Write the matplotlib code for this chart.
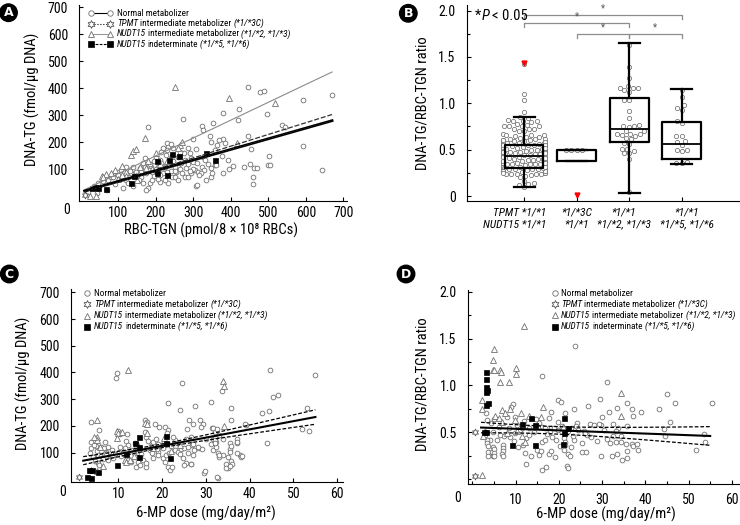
import matplotlib
matplotlib.use("Agg")
import matplotlib.pyplot as plt
import numpy as np
import seaborn as sns
from matplotlib import font_manager
from matplotlib.ticker import MultipleLocator

# pick a narrow face if one is installed (the figure uses a condensed grotesque)
_fonts = font_manager.fontManager.ttflist
_names = {f.name for f in _fonts}
FONT, STRETCH = 'DejaVu Sans', 'normal'
for n in ['Liberation Sans Narrow', 'Roboto Condensed', 'Noto Sans Condensed', 'Open Sans Condensed',
          'DejaVu Sans Condensed', 'Noto Sans SemiCondensed']:
    if n in _names:
        FONT = n
        break
else:
    for n in ['Roboto', 'Noto Sans', 'DejaVu Sans', 'Open Sans', 'Liberation Sans']:
        if any(f.name == n and f.stretch in ('condensed', 'semi-condensed', 'extra-condensed')
               and f.style == 'normal' for f in _fonts):
            FONT, STRETCH = n, 'condensed'
            break
NARROW = FONT != 'DejaVu Sans' or STRETCH != 'normal'
SC = 1.0 if NARROW else 0.86

plt.rcParams['font.family'] = [FONT, 'DejaVu Sans']
plt.rcParams['font.stretch'] = STRETCH

# ---------------- panel A : RBC-TGN vs DNA-TG ----------------
a_norm_rbc = [179, 273, 323, 326, 353, 299, 231, 233, 231, 219, 228, 286, 290, 308, 326, 308, 210, 215, 188, 181,
              175, 161, 184, 179, 113, 233, 210, 244, 252, 259, 277, 286, 295, 305, 313, 323, 329, 339, 346, 121,
              126, 135, 148, 157, 166, 106, 92, 73, 81, 46, 35, 19, 97, 206, 215, 259, 268, 277, 295, 299,
              321, 346, 348, 357, 357, 445, 478, 489, 669, 593, 423, 380, 497, 418, 536, 545, 345, 380, 384, 369,
              447, 454, 593, 643, 503, 500, 505, 462, 469, 451, 436, 405, 396, 380, 460, 460, 362, 376, 361, 349,
              393, 43, 69, 173, 309, 60, 85, 100, 110, 130, 140, 150, 160, 170, 185, 190, 195, 200, 205, 220,
              225, 240, 245, 250, 255, 265, 270, 280, 285, 300, 310, 315, 245, 260, 200, 190, 155, 140, 225, 90,
              120, 170, 235, 195, 330, 275, 240, 265, 215, 250, 290, 230, 210, 165, 335]
a_norm_dna = [255, 285, 260, 246, 272, 211, 198, 184, 171, 178, 153, 178, 161, 174, 147, 38, 134, 122, 110, 98,
              85, 73, 48, 30, 30, 48, 54, 73, 70, 60, 73, 70, 85, 97, 91, 110, 97, 119, 104, 60,
              48, 85, 91, 104, 122, 97, 85, 60, 73, 48, 38, 17, 91, 110, 98, 110, 122, 134, 141, 128,
              85, 73, 202, 171, 116, 406, 385, 390, 375, 357, 323, 309, 304, 283, 263, 255, 223, 214, 198, 208,
              223, 177, 186, 97, 151, 116, 115, 106, 104, 120, 110, 112, 100, 87, 70, 45, 190, 149, 116, 88,
              134, 11, 23, 22, 41, 55, 70, 80, 70, 95, 110, 80, 95, 110, 120, 90, 75, 100, 65, 85,
              110, 95, 130, 110, 90, 100, 85, 105, 120, 100, 125, 80, 180, 145, 145, 60, 60, 40, 60, 45,
              110, 140, 115, 130, 135, 160, 195, 165, 165, 95, 95, 90, 80, 50, 60]
a_tpmt_rbc = [10]
a_tpmt_dna = [4]
a_nudt_rbc = [250, 395, 518, 171, 109, 134, 140, 147, 56, 67, 91, 60, 81, 25, 41, 189, 265, 416, 157, 151,
              100, 120, 175, 210, 230, 240, 260, 200, 270, 120, 110, 180]
a_nudt_dna = [406, 363, 344, 216, 113, 153, 169, 175, 76, 82, 97, 72, 88, 3, 2, 100, 190, 196, 110, 60,
              65, 90, 105, 120, 130, 150, 180, 160, 200, 75, 80, 130]
a_ind_rbc = [203, 244, 262, 135, 142, 68, 30, 37, 202, 235, 333, 357, 45, 230]
a_ind_dna = [132, 155, 150, 48, 77, 26, 30, 33, 85, 134, 159, 136, 32, 80]
# fitted lines (slope, intercept)
a_fit_normal = (0.394, 16)
a_fit_tpmt = (0.400, 13)
a_fit_nudt = (0.660, 18)
a_fit_ind = (0.434, 12)
a_fit_range = [10, 670]

# ---------------- panel C : dose vs DNA-TG ----------------
c_norm_dose = [3.7, 9.5, 9.8, 24.5, 31.2, 21.3, 24.1, 27.5, 44.6, 54.9, 45.4, 46.5, 44.4, 42.7, 35.7, 53.0, 51.9, 53.6,
               43.9, 39.1, 37.2, 37.8, 38.0, 35.5, 35.5, 34.7, 35.0, 32.8, 34.0, 32.8, 33.1, 31.7, 32.3, 29.6, 29.8,
               31.3, 32.1, 28.7, 29.4, 28.3, 29.0, 25.5, 26.6, 26.8, 26.2, 25.8,
               3.8, 5.0, 3.8, 5.2, 6.1, 6.7, 7.6, 7.3, 5.4, 6.1, 4.2, 6.5, 7.6, 5.4, 5.7, 5.7, 16.2, 16.6, 9.9,
               11.8, 12.2, 11.5, 12.8, 10.1, 10.7, 12.2, 13.0, 14.1, 14.5, 14.1, 14.9, 15.6, 16.4, 16.4, 16.0, 16.4,
               16.8, 17.9, 18.5, 19.1, 19.8, 17.2, 17.7, 19.1, 20.2, 18.3, 19.4, 20.6, 21.3, 21.2, 20.2, 20.7, 21.3,
               21.7, 22.3, 21.0, 21.5, 23.0, 23.6, 24.4, 25.0, 25.9, 22.9, 23.5, 25.5, 26.7, 27.1, 28.2, 27.3, 27.1,
               28.9, 25.1, 26.7, 31.6, 32.4, 31.2, 32.0,
               33.6, 35.7, 38.9, 31.6, 32.6, 33.1, 32.1, 33.8, 32.1, 37.0, 37.0, 33.1, 35.5, 35.7, 35.0, 35.7, 36.0,
               37.1, 38.2, 34.6, 35.5, 32.6,
               3.5, 4.5, 6.8, 8.0, 8.5, 9.2, 10.5, 11.0, 13.5, 14.0, 15.0, 13.8, 17.5, 18.0, 19.0, 22.0, 24.0, 27.0,
               30.0, 12.0, 10.3, 15.2, 18.8, 20.5, 22.5, 8.8, 7.0, 4.8, 24.8, 26.0]
c_norm_dna = [216, 381, 397, 362, 290, 287, 259, 276, 411, 390, 309, 316, 257, 250, 266, 268, 190, 181,
              137, 203, 137, 91, 83, 112, 101, 57, 41, 4, 91, 100, 83, 150, 141, 25, 33,
              191, 178, 224, 209, 119, 112, 60, 57, 129, 224, 187,
              141, 125, 116, 107, 122, 116, 120, 104, 91, 87, 85, 75, 73, 60, 54, 185, 224, 216, 181,
              144, 128, 116, 110, 104, 87, 73, 66, 85, 66, 48, 54, 73, 48, 62, 178, 160,
              145, 141, 153, 132, 122, 110, 97, 103, 116, 209, 195, 195, 185, 172, 82, 66, 48,
              35, 45, 91, 97, 110, 103, 112, 116, 120, 147, 137, 153, 160, 134, 122, 110, 209,
              197, 54, 56, 110, 120, 132, 154,
              330, 222, 206, 194, 187, 166, 148, 151, 135, 153, 141, 91, 137, 125, 85, 70, 57,
              97, 87, 41, 50, 10,
              100, 130, 95, 88, 110, 95, 120, 98, 100, 120, 105, 135, 125, 80, 90, 125, 95, 90,
              150, 170, 170, 95, 112, 140, 160, 80, 140, 70, 80, 100]
c_tpmt_dose = [1.1]
c_tpmt_dna = [8]
c_nudt_dose = [12.3, 34.0, 34.2, 5.2, 5.2, 5.2, 9.6, 10.0, 9.8, 16.1, 16.5, 34.1, 5.1, 11.5, 11.8, 16.5, 24.1, 12.7,
               5.8, 6.5, 3.8, 7.2, 13.5, 18.0, 20.5, 22.0, 14.5, 8.5, 10.8, 4.5]
c_nudt_dna = [411, 369, 349, 222, 160, 148, 181, 172, 156, 212, 206, 201, 33, 73, 66, 172, 129, 73,
              122, 50, 35, 100, 88, 118, 155, 105, 130, 95, 177, 160]
c_ind_dose = [2.9, 3.7, 3.4, 4.1, 5.4, 9.6, 11.8, 13.8, 14.7, 14.7, 14.7, 21.0, 21.0, 21.9]
c_ind_dna = [8, 6, 35, 37, 29, 54, 95, 137, 157, 120, 85, 163, 137, 81]
c_fit = (3.08, 64.0)
c_fit_range = [2, 55]
c_band = (20.0, 49.0, 0.555)   # centre, a, b of half-width sqrt(a + b*(x-centre)^2)

# ---------------- panel D : dose vs ratio ----------------
d_norm_dose = [23.8, 16.1, 31.2, 45.0, 46.8, 55.4, 29.5, 35.7, 33.5, 36.9, 39.1, 31.6, 43.1, 37.1, 45.7, 35.7, 29.7,
               44.3, 44.6, 53.6, 53.9, 51.8, 33.7, 33.1, 32.6, 33.2, 31.1, 34.3, 34.3, 35.5, 36.9, 37.2, 38.1, 38.3,
               35.7, 33.5, 32.4, 34.7, 35.8, 29.8, 19.9, 20.4, 23.5, 9.4, 9.0, 3.2, 18.2, 17.7, 21.3, 19.8, 24.3,
               15.3, 14.6, 16.0, 16.7, 18.2, 18.9, 17.9, 19.9, 22.9, 24.4, 25.8, 27.1, 28.1, 26.6, 29.2, 3.4, 5.1,
               8.1, 10.9, 11.5, 9.8, 8.6, 7.3, 6.3, 4.7, 5.7, 4.1, 3.4, 3.4, 3.6, 4.7, 3.6, 4.6, 3.7, 4.8, 5.1,
               5.1, 5.1, 7.0, 7.0, 7.0, 6.9, 7.0, 12.1, 12.5, 13.6, 15.4, 15.0, 15.8, 16.1, 16.7, 17.1, 16.1,
               17.7, 19.0, 18.1, 19.4, 20.2, 21.1, 21.5, 21.3, 21.1, 21.8, 22.1, 22.1, 22.5, 22.9, 23.5, 25.4,
               26.3, 25.4, 10.2, 12.3, 13.1, 11.8, 9.6, 10.5, 8.4, 6.2, 4.3, 2.8, 27.5, 28.8, 26.0, 24.0, 30.5,
               31.8, 20.8, 22.0, 23.3, 18.5, 17.2, 14.2, 13.2, 12.0, 9.9, 26.8, 32.6, 30.0]
d_norm_ratio = [1.42, 1.10, 1.04, 0.91, 0.81, 0.81, 0.85, 0.81, 0.76, 0.75, 0.72, 0.72, 0.75, 0.67, 0.61, 0.57, 0.58,
                0.53, 0.46, 0.48, 0.39, 0.31, 0.54, 0.51, 0.46, 0.40, 0.43, 0.46, 0.40, 0.37, 0.37, 0.35, 0.37, 0.31,
                0.30, 0.27, 0.24, 0.20, 0.22, 0.24, 0.84, 0.82, 0.75, 0.80, 0.77, 0.70, 0.72, 0.65, 0.70, 0.61, 0.60,
                0.60, 0.64, 0.56, 0.55, 0.55, 0.54, 0.51, 0.52, 0.55, 0.52, 0.51, 0.59, 0.58, 0.47, 0.59, 0.63, 0.64,
                0.66, 0.52, 0.55, 0.49, 0.45, 0.46, 0.47, 0.50, 0.42, 0.42, 0.42, 0.38, 0.35, 0.34, 0.29, 0.29, 0.25,
                0.25, 0.32, 0.28, 0.24, 0.36, 0.33, 0.30, 0.27, 0.24, 0.28, 0.16, 0.24, 0.26, 0.31, 0.30, 0.40, 0.42,
                0.13, 0.10, 0.27, 0.23, 0.30, 0.42, 0.35, 0.44, 0.39, 0.36, 0.31, 0.14, 0.12, 0.27, 0.25, 0.34,
                0.42, 0.29, 0.29, 0.38, 0.58, 0.44, 0.47, 0.36, 0.41, 0.34, 0.55, 0.56, 0.60, 0.47, 0.45, 0.41,
                0.49, 0.57, 0.52, 0.38, 0.57, 0.51, 0.46, 0.45, 0.48, 0.50, 0.55, 0.62, 0.66, 0.78, 0.59, 0.66]
d_tpmt_dose = [0.7, 0.7]
d_tpmt_ratio = [0.03, 0.50]
d_nudt_dose = [12.0, 5.0, 4.7, 4.7, 5.0, 6.4, 6.7, 6.4, 8.5, 10.0, 10.0, 2.3, 2.3, 6.9, 7.6, 8.8, 5.3, 6.1, 9.9,
               11.3, 13.1, 16.4, 15.8, 2.3, 3.0, 2.4, 10.4, 11.5, 12.1, 34.3, 34.3, 15.2, 8.1, 6.8, 21.0]
d_nudt_ratio = [1.63, 1.39, 1.27, 1.17, 1.16, 1.16, 1.14, 1.04, 1.04, 1.19, 1.12, 0.84, 0.75, 0.74, 0.70, 0.75, 0.67,
                0.65, 0.63, 0.70, 0.67, 0.77, 0.66, 0.04, 0.51, 0.46, 0.51, 0.46, 0.40, 0.92, 0.67, 0.57, 0.49,
                0.61, 0.56]
d_ind_dose = [3.2, 3.2, 3.2, 3.3, 3.2, 3.2, 3.7, 2.7, 3.2, 9.1, 11.5, 13.6, 14.4, 21.1, 21.1, 22.0, 14.4, 21.0]
d_ind_ratio = [1.14, 1.07, 0.98, 0.95, 0.93, 0.79, 0.81, 0.50, 0.50, 0.36, 0.59, 0.65, 0.58, 0.65, 0.49, 0.55,
               0.36, 0.37]
d_fit = (-0.0017, 0.553)
d_fit_range = [2, 55]
d_band = (18.0, 0.0016, 6.1e-6)

# ---------------- panel B : box plots of the ratio ----------------
b_labels = ['TPMT *1/*1\nNUDT15 *1/*1', '*1/*3C\n*1/*1', '*1/*1\n*1/*2, *1/*3', '*1/*1\n*1/*5, *1/*6']
b_q1 = [0.305, 0.377, 0.58, 0.40]
b_med = [0.427, 0.50, 0.72, 0.56]
b_q3 = [0.546, 0.50, 1.06, 0.795]
b_lo = [0.095, 0.377, 0.035, 0.34]
b_hi = [0.853, 0.50, 1.65, 1.15]
b_fliers = [[1.43], [0.016], [], []]
b_tpmt_points = [0.5, 0.5, 0.5, 0.5]
b_sig_pairs = [(0, 3), (0, 2), (1, 2), (2, 3)]
b_sig_level = [1.955, 1.87, 1.75, 1.75]

# legend wording: (text, italic?) pieces per row
leg_rows = [[('Normal metabolizer', False)],
            [('TPMT', True), ('intermediate metabolizer', False), ('(*1/*3C)', True)],
            [('NUDT15', True), ('intermediate metabolizer', False), ('(*1/*2, *1/*3)', True)],
            [('NUDT15', True), ('indeterminate', False), ('(*1/*5, *1/*6)', True)]]

GRAY = '#707070'
FS_TICK = 10 * SC
FS_LAB = 10.5 * SC
FS_LEG = 6.7 * SC

fig = plt.figure(figsize=(7.4, 5.25), dpi=100)


def style_axes(ax, xpad=3.5):
    for s in ['top', 'right']:
        ax.spines[s].set_visible(False)
    for s in ['left', 'bottom']:
        ax.spines[s].set_linewidth(0.8)
    ax.tick_params(axis='both', which='both', direction='in', width=0.8, labelsize=FS_TICK)
    ax.tick_params(axis='both', which='major', length=3)
    ax.tick_params(axis='both', which='minor', length=2)
    ax.tick_params(axis='y', pad=8)
    ax.tick_params(axis='x', pad=xpad)


def circle_letter(x, y, s):
    fig.text(x, y, s, color='white', fontsize=9, fontweight='bold', ha='center', va='center',
             family='DejaVu Sans', stretch='normal',
             bbox=dict(boxstyle='circle,pad=0.18', fc='black', ec='black'))


MK = {'normal': dict(marker='o', ms=3.4, mfc='white', mec=GRAY, mew=0.6),
      'tpmt': dict(marker=(6, 1, 0), ms=5, mfc='white', mec='#555555', mew=0.6),
      'nudt': dict(marker='^', ms=4, mfc='white', mec=GRAY, mew=0.6),
      'ind': dict(marker='s', ms=3.6, mfc='black', mec='black', mew=0.5)}
KEYS = ['normal', 'tpmt', 'nudt', 'ind']


def pts(ax, x, y, kind):
    ax.plot(x, y, ls='none', **MK[kind])


def key_rows(ax, xk, xt, y0, dy, lines=None):
    # hand-made legend: markers (and a short line) then text pieces in mixed italic
    for i, (kind, parts) in enumerate(zip(KEYS, leg_rows)):
        y = y0 - i * dy
        st = dict(MK[kind])
        st['ms'] = st['ms'] * 1.15
        if lines:
            ax.plot(xk, [y, y], transform=ax.transAxes, clip_on=False, **lines[i], **st)
        else:
            ax.plot([xk], [y], transform=ax.transAxes, clip_on=False, ls='none', **st)
        t = None
        for s, it in parts:
            kw = dict(fontsize=FS_LEG, fontstyle='italic' if it else 'normal', va='center', ha='left')
            if t is None:
                t = ax.text(xt, y, s, transform=ax.transAxes, **kw)
            else:
                t = ax.annotate(s, xy=(1, 0.5), xycoords=t, xytext=(1.5, 0), textcoords='offset points', **kw)


# ===== A =====
ax = fig.add_axes([0.1068, 0.6171, 0.3622, 0.3733])
pts(ax, a_norm_rbc, a_norm_dna, 'normal')
pts(ax, a_nudt_rbc, a_nudt_dna, 'nudt')
pts(ax, a_tpmt_rbc, a_tpmt_dna, 'tpmt')
pts(ax, a_ind_rbc, a_ind_dna, 'ind')
xs = np.array(a_fit_range, dtype=float)
ax.plot(xs, a_fit_nudt[1] + a_fit_nudt[0] * xs, color='#8a8a8a', lw=0.8)
ax.plot(xs, a_fit_ind[1] + a_fit_ind[0] * xs, color='#333333', lw=0.9, ls=(0, (4, 1.5)))
ax.plot(xs, a_fit_normal[1] + a_fit_normal[0] * xs, color='black', lw=2.0)
ax.plot(xs, a_fit_tpmt[1] + a_fit_tpmt[0] * xs, color='#222222', lw=1.0, ls=':')
ax.set_xlim(-4.8, 710)
ax.set_ylim(-17.4, 708)
ax.set_xticks(range(100, 701, 100))
ax.set_yticks(range(100, 701, 100))
style_axes(ax)
ax.text(-0.045, -0.046, '0', transform=ax.transAxes, ha='center', va='center', fontsize=FS_TICK)
ax.set_xlabel('RBC-TGN (pmol/8 × 10⁸ RBCs)', fontsize=FS_LAB)
ax.set_ylabel('DNA-TG (fmol/μg DNA)', fontsize=FS_LAB)
ax.xaxis.set_label_coords(0.493, -0.112)
ax.yaxis.set_label_coords(-0.146, 0.52)
key_rows(ax, [0.0437, 0.1157], 0.1407, 0.9577, 0.0526,
         lines=[dict(color='black', lw=0.8, ls='-'), dict(color='black', lw=0.8, ls=':'),
                dict(color='#999999', lw=0.8, ls='-'), dict(color='black', lw=0.8, ls=(0, (2.5, 1.2)))])

# ===== B =====
ax = fig.add_axes([0.6307, 0.6171, 0.368, 0.3733])
groups = [[v for v in d_norm_ratio if v not in b_fliers[0]], b_tpmt_points,
          [v for v in d_nudt_ratio if v not in b_fliers[2]], [v for v in d_ind_ratio if v not in b_fliers[3]]]
cat, val = [], []
for i, g in enumerate(groups):
    cat += ['g%d' % i] * len(g)
    val += list(g)
sns.swarmplot(x=cat, y=val, order=['g0', 'g1', 'g2', 'g3'], ax=ax, size=3.1, color='white',
              edgecolor=GRAY, linewidth=0.55, zorder=2)
stats = []
for i in range(4):
    stats.append(dict(med=b_med[i], q1=b_q1[i], q3=b_q3[i], whislo=b_lo[i], whishi=b_hi[i], fliers=b_fliers[i]))
lk = dict(color='black', lw=1.6)
ax.bxp(stats, positions=[0, 1, 2, 3], widths=0.74, capwidths=0.4, boxprops=lk, whiskerprops=lk, capprops=lk,
       medianprops=dict(color='black', lw=1.3),
       flierprops=dict(marker='v', mfc='red', mec='red', ms=3.5, ls='none'), manage_ticks=False, zorder=3)
for (g1, g2), lev in zip(b_sig_pairs, b_sig_level):
    ax.plot([g1, g1, g2, g2], [lev - 0.045, lev, lev, lev - 0.045], color='#8c8c8c', lw=0.9)
    ax.text((g1 + g2) / 2.0, lev + 0.01, '*', ha='center', va='bottom', fontsize=7, color='#555555')
t = ax.text(-0.93, 1.94, '*', ha='left', va='center', fontsize=10.5 * SC)
t = ax.annotate('P', xy=(1, 0.5), xycoords=t, xytext=(0.3, 0), textcoords='offset points',
                ha='left', va='center', fontsize=10.5 * SC, fontstyle='italic')
ax.annotate('< 0.05', xy=(1, 0.5), xycoords=t, xytext=(2, 0), textcoords='offset points',
            ha='left', va='center', fontsize=10.5 * SC)
ax.set_xlim(-1.09, 4.09)
ax.set_ylim(-0.054, 2.06)
ax.set_yticks([0, 0.5, 1.0, 1.5, 2.0])
ax.set_yticklabels(['0', '0.5', '1.0', '1.5', '2.0'])
ax.yaxis.set_minor_locator(MultipleLocator(0.25))
ax.set_xticks([0, 1, 2, 3])
ax.set_xticklabels([])
style_axes(ax)
# group names sit slightly off their ticks, as in the figure
for s, xo, ha in zip(b_labels, [0.43, 1.0, 1.9, 3.1], ['right', 'center', 'center', 'center']):
    ax.text(xo, -0.035, s, transform=ax.get_xaxis_transform(), ha=ha, va='top', multialignment=ha,
            fontstyle='italic', fontsize=8.2 * SC, linespacing=1.2)
ax.set_xlabel('')
ax.set_ylabel('DNA-TG/RBC-TGN ratio', fontsize=FS_LAB)
ax.yaxis.set_label_coords(-0.138, 0.5)

# ===== C =====
ax = fig.add_axes([0.0959, 0.0813, 0.3676, 0.3676])
pts(ax, c_norm_dose, c_norm_dna, 'normal')
pts(ax, c_nudt_dose, c_nudt_dna, 'nudt')
pts(ax, c_tpmt_dose, c_tpmt_dna, 'tpmt')
pts(ax, c_ind_dose, c_ind_dna, 'ind')
xs = np.linspace(c_fit_range[0], c_fit_range[1], 60)
yf = c_fit[1] + c_fit[0] * xs
hw = np.sqrt(c_band[1] + c_band[2] * (xs - c_band[0]) ** 2)
ax.plot(xs, yf, color='black', lw=1.5)
ax.plot(xs, yf + hw, color='black', lw=0.9, ls=(0, (3, 1.5)))
ax.plot(xs, yf - hw, color='black', lw=0.9, ls=(0, (3, 1.5)))
ax.set_xlim(-0.8, 61.3)
ax.set_ylim(-10.8, 711)
ax.set_xticks(range(10, 61, 10))
ax.set_yticks(range(100, 701, 100))
style_axes(ax)
ax.text(-0.031, -0.049, '0', transform=ax.transAxes, ha='center', va='center', fontsize=FS_TICK)
ax.set_xlabel('6-MP dose (mg/day/m²)', fontsize=FS_LAB)
ax.set_ylabel('DNA-TG (fmol/μg DNA)', fontsize=FS_LAB)
ax.xaxis.set_label_coords(0.496, -0.12)
ax.yaxis.set_label_coords(-0.147, 0.514)
key_rows(ax, 0.060, 0.0846, 0.979, 0.0575)

# ===== D =====
ax = fig.add_axes([0.632, 0.0781, 0.368, 0.3695])
pts(ax, d_norm_dose, d_norm_ratio, 'normal')
pts(ax, d_nudt_dose, d_nudt_ratio, 'nudt')
pts(ax, d_tpmt_dose, d_tpmt_ratio, 'tpmt')
pts(ax, d_ind_dose, d_ind_ratio, 'ind')
xs = np.linspace(d_fit_range[0], d_fit_range[1], 60)
yf = d_fit[1] + d_fit[0] * xs
hw = np.sqrt(d_band[1] + d_band[2] * (xs - d_band[0]) ** 2)
ax.plot(xs, yf, color='black', lw=1.5)
ax.plot(xs, yf + hw, color='black', lw=0.9, ls=(0, (3, 1.5)))
ax.plot(xs, yf - hw, color='black', lw=0.9, ls=(0, (3, 1.5)))
ax.set_xlim(-1.1, 61.9)
ax.set_ylim(-0.054, 2.02)
ax.set_xticks(range(10, 61, 10))
ax.set_yticks([0.5, 1.0, 1.5, 2.0])
ax.set_yticklabels(['0.5', '1.0', '1.5', '2.0'])
ax.xaxis.set_minor_locator(MultipleLocator(5))
ax.yaxis.set_minor_locator(MultipleLocator(0.25))
style_axes(ax, xpad=6.5)
ax.text(-0.038, -0.074, '0', transform=ax.transAxes, ha='center', va='center', fontsize=FS_TICK)
ax.set_xlabel('6-MP dose (mg/day/m²)', fontsize=FS_LAB)
ax.set_ylabel('DNA-TG/RBC-TGN ratio', fontsize=FS_LAB)
ax.xaxis.set_label_coords(0.508, -0.116)
ax.yaxis.set_label_coords(-0.142, 0.515)
key_rows(ax, 0.320, 0.343, 0.983, 0.0572)

circle_letter(8.5 / 740, 1 - 12.7 / 525, 'A')
circle_letter(408.3 / 740, 1 - 13.3 / 525, 'B')
circle_letter(9.3 / 740, 1 - 274 / 525, 'C')
circle_letter(406 / 740, 1 - 274 / 525, 'D')

fig.savefig('out.png', dpi=100)
